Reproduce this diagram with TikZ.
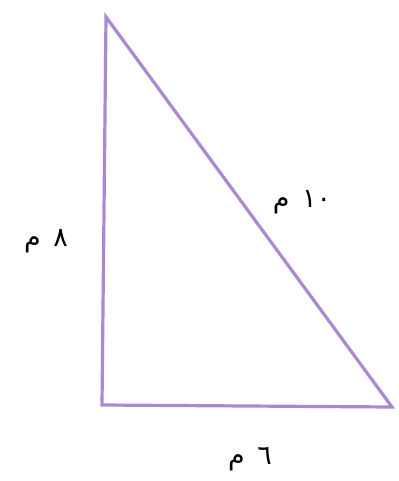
\documentclass[tikz,border=0pt]{standalone}
\usepackage{fontspec}
\newfontfamily\arabicfont[Script=Arabic]{DejaVu Sans}
\TeXXeTstate=1
\definecolor{tri}{HTML}{A98AD2}
\tikzset{side/.style={draw=tri,line width=3.2bp,line join=miter},
lab/.style={font=\arabicfont\fontsize{27}{30}\selectfont,inner sep=0pt}}
\begin{document}
\begin{tikzpicture}[x=1bp,y=-1bp]
\useasboundingbox (0,0) rectangle (398,481);
\coordinate (A) at (106,17);
\coordinate (B) at (102,405);
\coordinate (C) at (392,407);
\draw[side] (A) -- (B) -- (C) -- cycle;
\node[lab] (l8) at (46,241) {\beginR ٨\hspace{4bp} م\endR};
\node[lab] (l10) at (302,202) {\beginR ١٠\hspace{4bp} م\endR};
\node[lab] (l6) at (250,459) {\beginR ٦\hspace{4bp} م\endR};
\end{tikzpicture}
\end{document}
